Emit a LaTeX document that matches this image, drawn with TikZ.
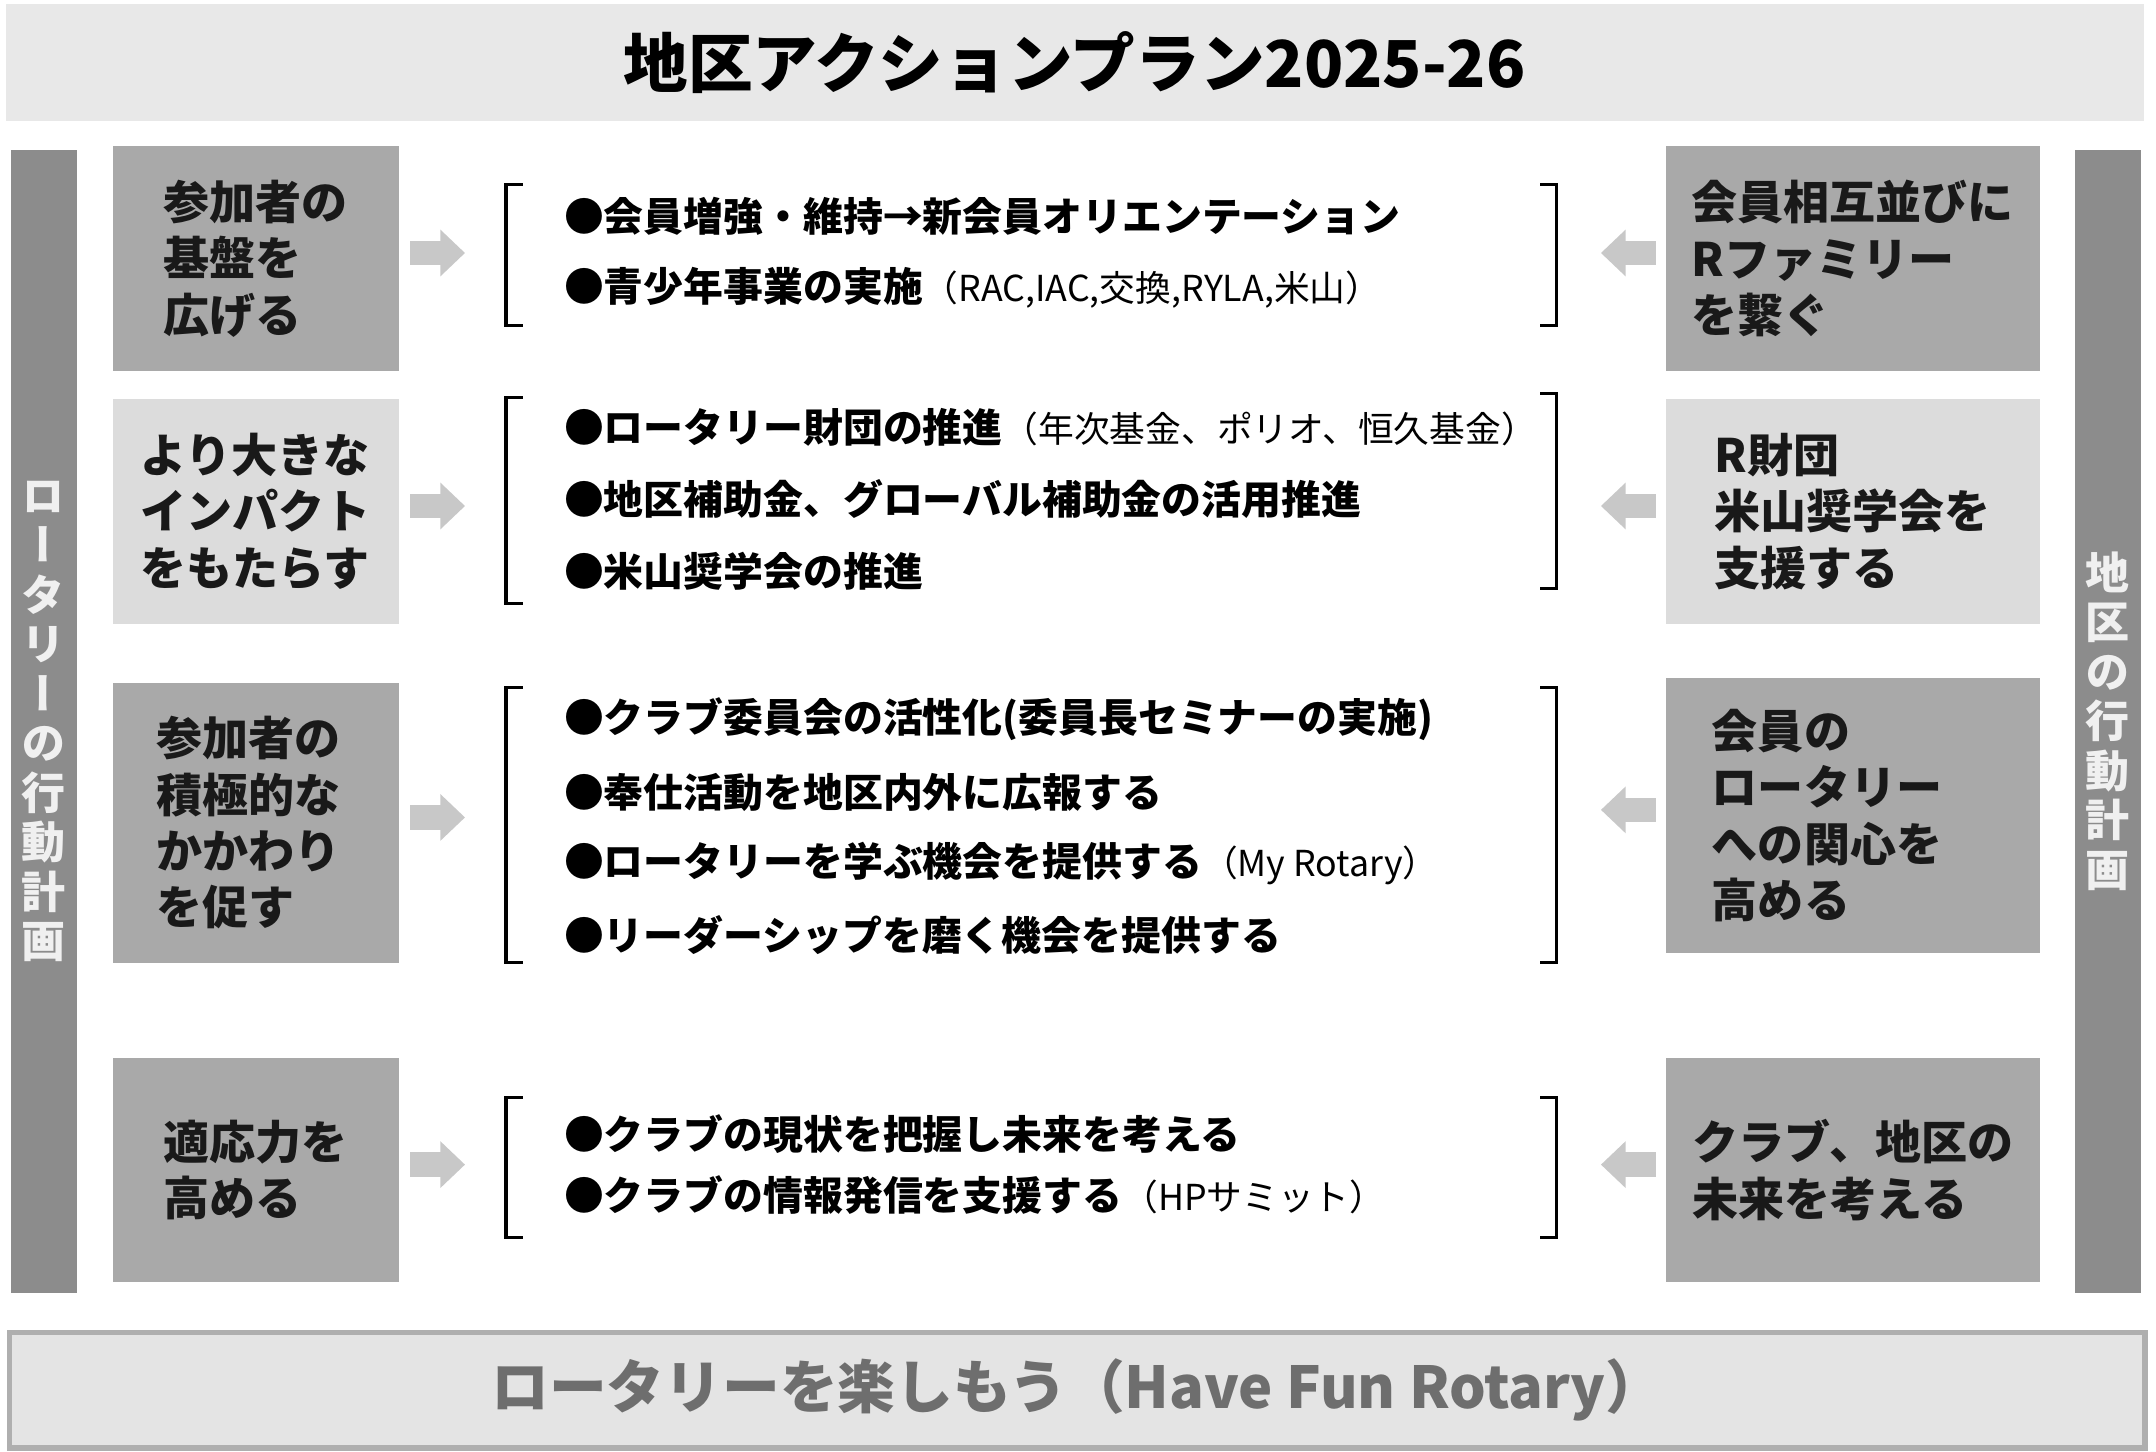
\documentclass[tikz,border=0pt]{standalone}
\usepackage{fontspec}
\setmainfont{Noto Sans CJK JP}
\newfontfamily\vertfont{Noto Sans CJK JP}[RawFeature=+vert]
\usepackage{tikz}
\usetikzlibrary{arrows.meta}

\definecolor{titlegray}{HTML}{E8E8E8}
\definecolor{boxdark}{HTML}{A9A9A9}
\definecolor{boxlight}{HTML}{DCDCDC}
\definecolor{bargray}{HTML}{8C8C8C}
\definecolor{arrowgray}{HTML}{C8C8C8}
\definecolor{footgray}{HTML}{E4E4E4}
\definecolor{footline}{HTML}{AFAFAF}
\definecolor{foottext}{HTML}{6E6E6E}

\newcommand{\paren}[1]{{\mdseries\fontsize{26}{30}\selectfont #1}}

\tikzset{
    goal/.style={rectangle, inner sep=0pt, align=left, text=black!90,
        font=\bfseries\fontsize{33.5}{41}\selectfont},
    leftgoal/.style={goal, minimum width=208pt},
    rightgoal/.style={goal, minimum width=272pt},
    item/.style={anchor=west, inner sep=0pt, font=\bfseries\fontsize{29}{35}\selectfont},
    sidebar/.style={rectangle, fill=bargray, minimum width=48pt, minimum height=831pt,
        inner sep=0pt, align=center, text=white!94!black,
        font=\vertfont\bfseries\fontsize{32}{36}\selectfont},
    fat/.style={arrowgray, line width=18pt, -{Triangle[length=18pt,width=33pt]}},
    brk/.style={line width=2.2pt},
}

\begin{document}
\begin{tikzpicture}[x=1pt, y=-1pt]
    \useasboundingbox (0,0) rectangle (1568,1056);
    \fill[white] (0,0) rectangle (1568,1056);

    % title and footer
    \node[fill=titlegray, minimum width=1555pt, minimum height=85pt, inner sep=0pt,
        font=\bfseries\fontsize{47}{56}\selectfont] (title) at (781.5,45.7) {地区アクションプラン2025-26};
    \node[fill=footgray, draw=footline, line width=4pt, minimum width=1553pt, minimum height=84pt,
        inner sep=0pt, text=foottext, font=\bfseries\fontsize{42}{50}\selectfont]
        (footer) at (783.5,1011) {ロータリーを楽しもう（Have Fun Rotary）};

    % side bars
    \node[sidebar] (leftbar) at (32,524.5) {ロ\\ー\\タ\\リ\\ー\\の\\行\\動\\計\\画};
    \node[sidebar] (rightbar) at (1533,524.5) {地\\区\\の\\行\\動\\計\\画};

    % left goals
    \node[leftgoal, fill=boxdark, minimum height=163pt] (lgoal1) at (186,188) {参加者の\\基盤を\\広げる};
    \node[leftgoal, fill=boxlight, minimum height=163pt] (lgoal2) at (186,372) {より大きな\\インパクト\\をもたらす};
    \node[leftgoal, fill=boxdark, minimum height=203pt, text width=144pt] (lgoal3) at (186,598.5) {参加者の\\積極的な\\かかわり\\を促す};
    \node[leftgoal, fill=boxdark, minimum height=163pt] (lgoal4) at (186,851) {適応力を\\高める};

    % right goals
    \node[rightgoal, fill=boxdark, minimum height=163pt] (rgoal1) at (1347.5,188) {会員相互並びに\\Rファミリー\\を繋ぐ};
    \node[rightgoal, fill=boxlight, minimum height=163pt] (rgoal2) at (1347.5,372) {R財団\\米山奨学会を\\支援する};
    \node[rightgoal, fill=boxdark, minimum height=200pt, text width=205pt] (rgoal3) at (1347.5,593) {会員の\\ロータリー\\への関心を\\高める};
    \node[rightgoal, fill=boxdark, minimum height=163pt] (rgoal4) at (1347.5,851) {クラブ、地区の\\未来を考える};

    % arrows
    \foreach \i in {1,...,4} {
        \draw[fat] ([shift={(8pt,4pt)}]lgoal\i.east) -- ++(40pt,0);
        \draw[fat] ([shift={(-7pt,4pt)}]rgoal\i.west) -- ++(-40pt,0);
    }

    % brackets
    \foreach \top/\bot in {134.5/236.5, 289/439, 500/700, 798/900}
        \draw[brk] (380,\top) -- (368,\top) -- (368,\bot) -- (380,\bot);
    \foreach \top/\bot in {134.5/236.5, 286.5/428, 500/700, 798/900}
        \draw[brk] (1120,\top) -- (1132,\top) -- (1132,\bot) -- (1120,\bot);

    % actions
    \node[item] (act11) at (410,157) {●会員増強・維持→新会員オリエンテーション};
    \node[item] (act12) at (410,209.5) {●青少年事業の実施\paren{（RAC,IAC,交換,RYLA,米山）}};

    \node[item] (act21) at (410,311) {●ロータリー財団の推進\paren{（年次基金、ポリオ、恒久基金）}};
    \node[item] (act22) at (410,363) {●地区補助金、グローバル補助金の活用推進};
    \node[item] (act23) at (410,415.5) {●米山奨学会の推進};

    \node[item] (act31) at (410,523) {●クラブ委員会の活性化(委員長セミナーの実施)};
    \node[item] (act32) at (410,576) {●奉仕活動を地区内外に広報する};
    \node[item] (act33) at (410,628) {●ロータリーを学ぶ機会を提供する\paren{（My Rotary）}};
    \node[item] (act34) at (410,680) {●リーダーシップを磨く機会を提供する};

    \node[item] (act41) at (410,825) {●クラブの現状を把握し未来を考える};
    \node[item] (act42) at (410,869) {●クラブの情報発信を支援する\paren{（HPサミット）}};
\end{tikzpicture}
\end{document}
